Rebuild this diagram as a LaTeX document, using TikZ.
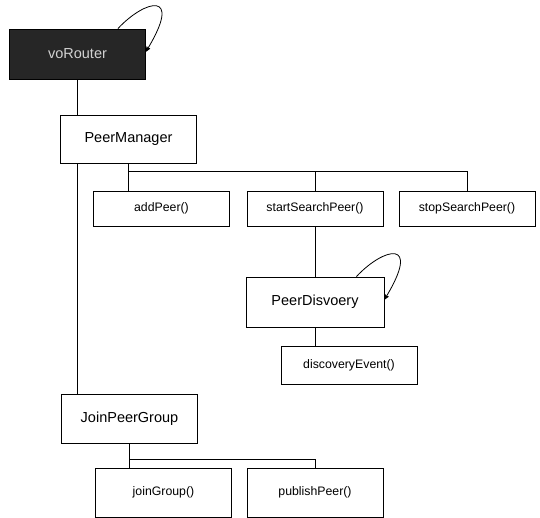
\documentclass[tikz,border=0pt]{standalone}
\usepackage{fontspec}
\setmainfont{Liberation Sans}
\usepackage{tikz}
\usetikzlibrary{arrows,shapes}

\tikzset{
  mainbox/.style={draw,line width=0.9bp,rectangle,minimum width=136bp,minimum height=48bp,inner sep=0pt,font=\fontsize{14.5bp}{17bp}\selectfont},
  callbox/.style={draw,line width=0.9bp,rectangle,minimum width=136bp,minimum height=36bp,inner sep=0pt,font=\fontsize{12.3bp}{15bp}\selectfont},
  link/.style={line width=0.8bp},
  loop/.style={->,>=stealth',line width=0.8bp}
}

\begin{document}
\begin{tikzpicture}

    \useasboundingbox (0,0) rectangle (540bp,-518bp);

    \node (router) at (77.5bp,-54bp)[mainbox,minimum height=50bp,fill=black!85,text=gray!35] {voRouter};
    \node (pm) at (128.5bp,-139bp)[mainbox] {PeerManager};
    \node (addpeer) at (161.5bp,-208.5bp)[callbox,minimum height=35bp] {addPeer()};
    \node (startsearch) at (315bp,-208.5bp)[callbox,minimum height=35bp] {startSearchPeer()};
    \node (stopsearch) at (467bp,-208.5bp)[callbox,minimum height=35bp] {stopSearchPeer()};
    \node (pd) at (315bp,-302bp)[mainbox,minimum width=138bp,minimum height=50bp] {PeerDisvoery};
    \node (de) at (349bp,-365bp)[callbox,minimum height=38bp] {discoveryEvent()};
    \node (jpg) at (129.5bp,-418.5bp)[mainbox,minimum height=49bp] {JoinPeerGroup};
    \node (joingroup) at (163.5bp,-492.5bp)[callbox,minimum height=49bp] {joinGroup()};
    \node (publishpeer) at (315bp,-492.5bp)[callbox,minimum height=49bp] {publishPeer()};

    \coordinate (bus1) at (128.5bp,-171bp);
    \coordinate (bus2) at (129.5bp,-459bp);

    \draw [link] (router.south) to (router.south |- pm.north);
    \draw [link] (router.south |- pm.south) to (router.south |- jpg.north);
    \draw [link] (pm.south) to (addpeer.north -| pm.south);
    \draw [link] (bus1) -| (startsearch.north);
    \draw [link] (bus1) -| (stopsearch.north);
    \draw [link] (startsearch.south) to (pd.north);
    \draw [link] (pd.south) to (de.north -| pd.south);
    \draw [link] (jpg.south) to (joingroup.north -| jpg.south);
    \draw [link] (bus2) -| (publishpeer.north);

    \draw [loop] ([xshift=-28bp]router.north east) .. controls +(27bp,29bp) and +(38bp,62bp) .. ([yshift=-23bp]router.north east);
    \draw [loop] ([xshift=-28bp]pd.north east) .. controls +(27bp,29bp) and +(38bp,62bp) .. ([yshift=-23bp]pd.north east);
\end{tikzpicture}
\end{document}
